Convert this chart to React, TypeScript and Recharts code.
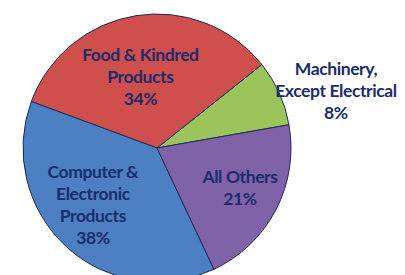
import React from 'react';
import { PieChart, Pie, Cell } from 'recharts';

document.body.style.margin = '0';

const categories = ['Machinery, Except Electrical', 'Food & Kindred Products', 'Computer & Electronic Products', 'All Others'];
const shares = [8, 34, 38, 21];
const labelLines = [
  ['Machinery,', 'Except Electrical'],
  ['Food & Kindred', 'Products'],
  ['Computer &', 'Electronic', 'Products'],
  ['All Others'],
];

const colors = ['#9BC55A', '#CF4F4C', '#4C80C2', '#8062A8'];
const labelRadius = [1.43, 0.5, 0.64, 0.68];
// small hand nudges so the text blocks sit where the original has them
const nudgeX = [-5, -6, -5, 0];
const nudgeY = [-4, -6, -6, 1];

const data = categories.map((name, i) => ({ name, value: shares[i] }));

const RADIAN = Math.PI / 180;

const renderLabel = (props: any) => {
  const { cx, cy, midAngle, outerRadius, index, value } = props;
  const shifts = [-8, 0, -1, 3];
  const r = outerRadius * labelRadius[index];
  const x = cx + r * Math.cos(-(midAngle + shifts[index]) * RADIAN) + nudgeX[index];
  const y = cy + r * Math.sin(-(midAngle + shifts[index]) * RADIAN) + nudgeY[index];
  const lines = [...labelLines[index], `${value}%`];
  const lh = 22;
  const top = y - ((lines.length - 1) * lh) / 2;
  return (
    <text
      x={x}
      y={top}
      textAnchor="middle"
      dominantBaseline="central"
      fill="#1B2C6E"
      style={{ fontFamily: 'Lato', fontWeight: 700, fontSize: 17.5, letterSpacing: -0.4 }}
    >
      {lines.map((l, i) => (
        <tspan key={i} x={x} y={top + i * lh}>{l}</tspan>
      ))}
    </text>
  );
};

export default function App() {
  return (
    <div style={{ width: 405, height: 275, background: '#fff', overflow: 'hidden' }}>
      <PieChart width={405} height={275}>
        <Pie
          data={data}
          dataKey="value"
          cx={152}
          cy={143}
          outerRadius={134}
          startAngle={10}
          endAngle={370}
          stroke="#1E2B55"
          strokeWidth={1}
          label={renderLabel}
          labelLine={false}
          isAnimationActive={false}
        >
          {data.map((d, i) => (
            <Cell key={d.name} fill={colors[i]} />
          ))}
        </Pie>
      </PieChart>
    </div>
  );
}
